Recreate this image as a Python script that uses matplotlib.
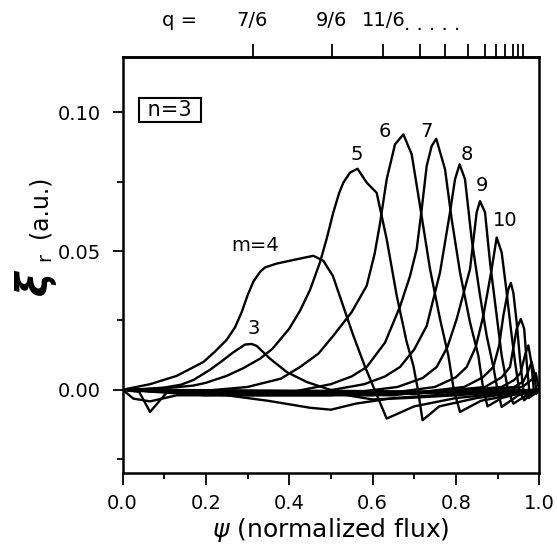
import numpy as np
import matplotlib.pyplot as plt

plt.rcParams['font.family'] = ['DejaVu Sans']

# psi positions of the q = (2m+1)/6 surfaces (top axis)
q_psi = [0.312, 0.502, 0.626, 0.713, 0.774, 0.828, 0.869, 0.897, 0.918, 0.938, 0.950, 0.962]
q_labels = ['7/6', '9/6', '11/6'] + [''] * 9

# radial displacement of each poloidal harmonic m (n=3)
m1_x = [0.0, 0.04, 0.066, 0.106, 0.2, 0.4, 0.6, 0.8, 1.0]
m1_y = [0.0, -0.0008, -0.008, -0.001, -0.0008, -0.0012, -0.001, -0.0006, 0.0]

m2_x = [0.0, 0.026, 0.066, 0.13, 0.25, 0.35, 0.45, 0.50, 0.56, 0.65, 0.8, 1.0]
m2_y = [0.0, -0.0032, -0.0042, -0.002, -0.002, -0.004, -0.0065, -0.0072, -0.005, -0.003, -0.0015, 0.0]

m3_x = [0.0, 0.05, 0.10, 0.14, 0.17, 0.21, 0.24, 0.266, 0.294, 0.31, 0.322, 0.354, 0.394, 0.442, 0.49,
        0.54, 0.60, 0.68, 0.80, 0.90, 1.0]
m3_y = [0.0, 0.0002, 0.0008, 0.0018, 0.0035, 0.0072, 0.0105, 0.0135, 0.0163, 0.0165, 0.0158, 0.0112,
        0.0064, 0.0028, 0.0004, -0.002, -0.0035, -0.003, -0.002, -0.001, 0.0]

m4_x = [0.0, 0.066, 0.13, 0.194, 0.22, 0.25, 0.27, 0.286, 0.30, 0.314, 0.33, 0.342, 0.37, 0.41, 0.458,
        0.482, 0.505, 0.530, 0.554, 0.582, 0.605, 0.634, 0.70, 0.80, 0.90, 1.0]
m4_y = [0.0, 0.002, 0.005, 0.010, 0.0135, 0.018, 0.0225, 0.028, 0.034, 0.039, 0.0425, 0.0441, 0.0455,
        0.0468, 0.0483, 0.0465, 0.041, 0.030, 0.0195, 0.0083, 0.0, -0.0104, -0.006, -0.003, -0.0015, 0.0]

m5_x = [0.0, 0.10, 0.17, 0.20, 0.25, 0.29, 0.33, 0.36, 0.40, 0.426, 0.45, 0.474, 0.49, 0.506, 0.52,
        0.53, 0.546, 0.564, 0.586, 0.61, 0.634, 0.658, 0.682, 0.698, 0.709, 0.72, 0.76, 0.85, 0.95, 1.0]
m5_y = [0.0, 0.0005, 0.0015, 0.0025, 0.005, 0.0078, 0.0112, 0.0148, 0.022, 0.0285, 0.036, 0.046,
        0.0545, 0.064, 0.071, 0.0747, 0.0783, 0.0797, 0.0747, 0.071, 0.0543, 0.034, 0.0172, 0.0087,
        0.0, -0.011, -0.006, -0.003, -0.001, 0.0]

m6_x = [0.0, 0.15, 0.30, 0.38, 0.426, 0.47, 0.506, 0.55, 0.586, 0.605, 0.618, 0.634, 0.654, 0.674,
        0.694, 0.714, 0.738, 0.762, 0.782, 0.795, 0.81, 0.86, 0.93, 1.0]
m6_y = [0.0, -0.001, 0.001, 0.004, 0.0082, 0.013, 0.0195, 0.028, 0.0375, 0.049, 0.060, 0.0759, 0.0885,
        0.0921, 0.0849, 0.0663, 0.0435, 0.0255, 0.0123, 0.0, -0.008, -0.004, -0.002, 0.0]

m7_x = [0.0, 0.2, 0.40, 0.50, 0.55, 0.586, 0.63, 0.666, 0.69, 0.706, 0.718, 0.730, 0.742, 0.753, 0.774,
        0.790, 0.810, 0.834, 0.854, 0.866, 0.876, 0.91, 0.96, 1.0]
m7_y = [0.0, -0.0015, -0.001, 0.002, 0.0048, 0.0082, 0.017, 0.030, 0.041, 0.0507, 0.065, 0.0807,
        0.0879, 0.0905, 0.0795, 0.0615, 0.0423, 0.0243, 0.0123, 0.0, -0.006, -0.003, -0.001, 0.0]

m8_x = [0.0, 0.2, 0.45, 0.58, 0.63, 0.666, 0.70, 0.73, 0.762, 0.786, 0.798, 0.809, 0.822, 0.838, 0.858,
        0.874, 0.89, 0.90, 0.91, 0.95, 1.0]
m8_y = [0.0, -0.002, -0.0015, 0.002, 0.0048, 0.0082, 0.0145, 0.023, 0.0423, 0.064, 0.0759, 0.0813,
        0.0759, 0.0543, 0.034, 0.0195, 0.0082, 0.0, -0.0062, -0.002, 0.0]

m9_x = [0.0, 0.25, 0.5, 0.66, 0.72, 0.754, 0.78, 0.802, 0.834, 0.85, 0.858, 0.870, 0.882, 0.898, 0.91,
        0.925, 0.938, 0.97, 1.0]
m9_y = [0.0, -0.002, -0.002, 0.001, 0.0042, 0.0082, 0.0155, 0.0255, 0.0435, 0.064, 0.068, 0.064,
        0.046, 0.0267, 0.0123, 0.0, -0.005, -0.002, 0.0]

m10_x = [0.0, 0.3, 0.6, 0.75, 0.80, 0.826, 0.848, 0.866, 0.886, 0.898, 0.910, 0.921, 0.932, 0.942,
         0.952, 0.964, 0.985, 1.0]
m10_y = [0.0, -0.002, -0.002, 0.001, 0.0045, 0.0082, 0.0155, 0.0267, 0.0435, 0.0549, 0.0495, 0.0363,
         0.022, 0.01, 0.0, -0.0038, -0.001, 0.0]

m11_x = [0.0, 0.3, 0.65, 0.82, 0.865, 0.89, 0.904, 0.914, 0.926, 0.932, 0.938, 0.946, 0.954, 0.962,
         0.975, 1.0]
m11_y = [0.0, -0.0015, -0.002, 0.001, 0.0045, 0.0082, 0.0160, 0.0267, 0.0363, 0.0385, 0.035, 0.0243,
         0.011, 0.0, -0.003, 0.0]

m12_x = [0.0, 0.35, 0.7, 0.87, 0.91, 0.93, 0.946, 0.956, 0.964, 0.970, 0.976, 0.985, 1.0]
m12_y = [0.0, -0.001, -0.0015, 0.001, 0.0045, 0.0082, 0.022, 0.0255, 0.022, 0.01, 0.0, -0.002, 0.0]

m13_x = [0.0, 0.4, 0.75, 0.91, 0.94, 0.955, 0.967, 0.974, 0.981, 0.987, 0.993, 1.0]
m13_y = [0.0, -0.001, -0.0012, 0.001, 0.0035, 0.006, 0.013, 0.016, 0.010, 0.0, -0.0015, 0.0]

m14_x = [0.0, 0.5, 0.8, 0.94, 0.962, 0.972, 0.982, 0.988, 0.993, 1.0]
m14_y = [0.0, -0.0008, -0.001, 0.001, 0.003, 0.006, 0.010, 0.006, 0.0, 0.0]

m15_x = [0.0, 0.6, 0.85, 0.96, 0.985, 0.992, 0.997, 1.0]
m15_y = [0.0, -0.0005, -0.0008, 0.001, 0.004, 0.006, 0.002, 0.0]

curves = [(m1_x, m1_y), (m2_x, m2_y), (m3_x, m3_y), (m4_x, m4_y), (m5_x, m5_y), (m6_x, m6_y),
          (m7_x, m7_y), (m8_x, m8_y), (m9_x, m9_y), (m10_x, m10_y), (m11_x, m11_y),
          (m12_x, m12_y), (m13_x, m13_y), (m14_x, m14_y), (m15_x, m15_y)]

# curve labels and where they sit
label_txt = ['3', 'm=4', '5', '6', '7', '8', '9', '10']
label_x = [0.314, 0.318, 0.562, 0.630, 0.730, 0.826, 0.862, 0.918]
label_y = [0.0220, 0.0520, 0.0849, 0.0933, 0.0933, 0.0849, 0.0735, 0.0609]

fig = plt.figure(figsize=(5.57, 5.48), dpi=100)
ax = fig.add_axes([0.22, 0.137, 0.748, 0.759])

for xs, ys in curves:
    ax.plot(xs, ys, color='black', lw=1.7)

for t, x, y in zip(label_txt, label_x, label_y):
    ax.text(x, y, t, ha='center', va='center', fontsize=14)

ax.text(0.114, 0.101, ' n=3 ', ha='center', va='center', fontsize=15,
        bbox=dict(boxstyle='square,pad=0.1', fc='white', ec='black', lw=1.5))

ax.set_xlim(0, 1.0)
ax.set_ylim(-0.03, 0.12)
ax.set_xticks([0.0, 0.2, 0.4, 0.6, 0.8, 1.0])
ax.set_xticks([0.1, 0.3, 0.5, 0.7, 0.9], minor=True)
ax.set_xticklabels(['0.0', '0.2', '0.4', '0.6', '0.8', '1.0'])
ax.set_yticks([0.0, 0.05, 0.10])
ax.set_yticks([-0.025, 0.025, 0.075], minor=True)
ax.set_yticklabels(['0.00', '0.05', '0.10'])
ax.tick_params(axis='both', which='major', direction='out', length=8.5, width=1.3, labelsize=14, pad=7)
ax.tick_params(axis='both', which='minor', direction='out', length=4.5, width=1.3)
ax.tick_params(axis='y', which='major', length=7.5, pad=8)
for s in ax.spines.values():
    s.set_linewidth(1.8)

top = ax.secondary_xaxis('top')
top.set_xticks(q_psi, labels=q_labels)
top.tick_params(direction='out', length=9.5, width=1.3, labelsize=14, pad=10)
top.spines['top'].set_linewidth(1.8)

fig.text(180 / 557, 1 - 21 / 548, 'q =', ha='center', va='center', fontsize=14)
fig.text(404 / 557, 1 - 29.5 / 548, '. . . . .', ha='left', va='baseline', fontsize=14)

ax.set_xlabel(r'$\psi$ (normalized flux)', fontsize=18, labelpad=2)

fig.text(35 / 557, 1 - 283 / 548, 'ξ', rotation=90, ha='center', va='center',
         fontsize=30, fontweight='bold', style='italic')
fig.text(45 / 557, 1 - 257 / 548, 'r', rotation=90, ha='center', va='center', fontsize=14)
fig.text(40 / 557, 1 - 207 / 548, '(a.u.)', rotation=90, ha='center', va='center', fontsize=17)

fig.savefig('out.png', dpi=100)
